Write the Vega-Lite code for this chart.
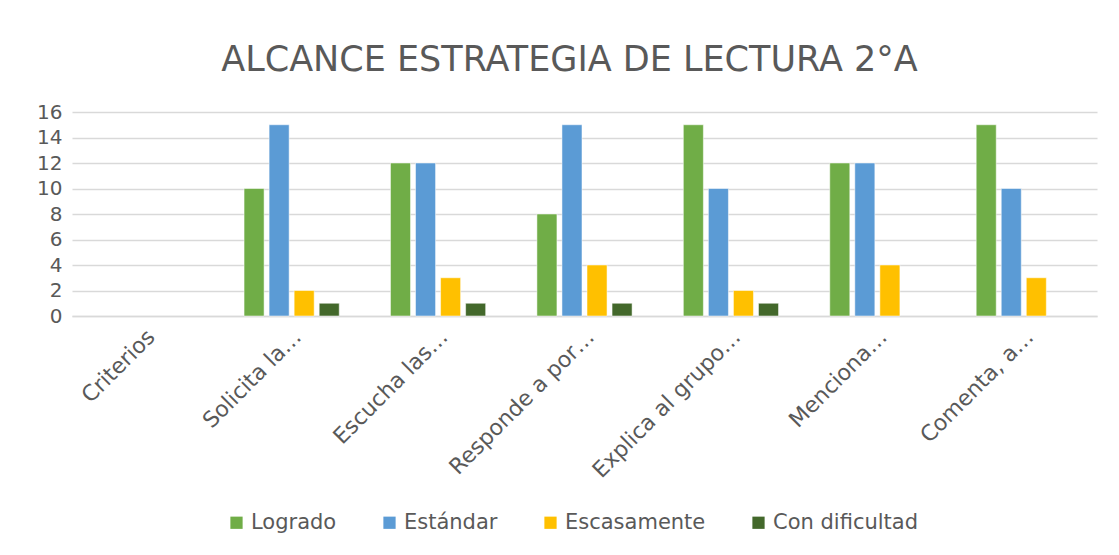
{
  "$schema": "https://vega.github.io/schema/vega-lite/v6.json",
  "width": 1025,
  "height": 204,
  "autosize": "none",
  "padding": {"left": 72, "top": 112, "right": 22, "bottom": 239},
  "background": "white",
  "title": {
    "text": "ALCANCE ESTRATEGIA DE LECTURA 2°A",
    "fontSize": 35,
    "font": "DejaVu Sans",
    "fontWeight": "normal",
    "color": "#595959",
    "anchor": "middle",
    "offset": 24,
    "dx": -15
  },
  "data": {
    "values": [
      {"criterio": "Solicita la…", "serie": "Logrado", "valor": 10},
      {"criterio": "Solicita la…", "serie": "Estándar", "valor": 15},
      {"criterio": "Solicita la…", "serie": "Escasamente", "valor": 2},
      {"criterio": "Solicita la…", "serie": "Con dificultad", "valor": 1},
      {"criterio": "Escucha las…", "serie": "Logrado", "valor": 12},
      {"criterio": "Escucha las…", "serie": "Estándar", "valor": 12},
      {"criterio": "Escucha las…", "serie": "Escasamente", "valor": 3},
      {"criterio": "Escucha las…", "serie": "Con dificultad", "valor": 1},
      {"criterio": "Responde a por…", "serie": "Logrado", "valor": 8},
      {"criterio": "Responde a por…", "serie": "Estándar", "valor": 15},
      {"criterio": "Responde a por…", "serie": "Escasamente", "valor": 4},
      {"criterio": "Responde a por…", "serie": "Con dificultad", "valor": 1},
      {"criterio": "Explica al grupo…", "serie": "Logrado", "valor": 15},
      {"criterio": "Explica al grupo…", "serie": "Estándar", "valor": 10},
      {"criterio": "Explica al grupo…", "serie": "Escasamente", "valor": 2},
      {"criterio": "Explica al grupo…", "serie": "Con dificultad", "valor": 1},
      {"criterio": "Menciona…", "serie": "Logrado", "valor": 12},
      {"criterio": "Menciona…", "serie": "Estándar", "valor": 12},
      {"criterio": "Menciona…", "serie": "Escasamente", "valor": 4},
      {"criterio": "Comenta, a…", "serie": "Logrado", "valor": 15},
      {"criterio": "Comenta, a…", "serie": "Estándar", "valor": 10},
      {"criterio": "Comenta, a…", "serie": "Escasamente", "valor": 3}
    ]
  },
  "mark": {"type": "bar", "stroke": "#FFFFFF", "strokeOpacity": 0.5, "strokeWidth": 1},
  "encoding": {
    "x": {
      "field": "criterio",
      "type": "nominal",
      "sort": null,
      "scale": {
        "domain": ["Criterios", "Solicita la…", "Escucha las…", "Responde a por…", "Explica al grupo…", "Menciona…", "Comenta, a…"],
        "paddingInner": 0.35,
        "paddingOuter": 0.175
      },
      "axis": {
        "title": null,
        "labelAngle": -45,
        "labelAlign": "right",
        "labelBaseline": "middle",
        "labelFontSize": 22,
        "labelFont": "DejaVu Sans",
        "labelColor": "#595959",
        "labelPadding": 17,
        "labelOffset": 6,
        "ticks": false,
        "domainColor": "#D9D9D9",
        "domainWidth": 1.5,
        "grid": false,
        "labelLimit": 300
      }
    },
    "xOffset": {
      "field": "serie",
      "type": "nominal",
      "scale": {
        "domain": ["Logrado", "Estándar", "Escasamente", "Con dificultad"],
        "paddingInner": 0.2,
        "paddingOuter": 0
      }
    },
    "y": {
      "field": "valor",
      "type": "quantitative",
      "scale": {"domain": [0, 16], "nice": false},
      "axis": {
        "title": null,
        "values": [0, 2, 4, 6, 8, 10, 12, 14, 16],
        "domain": false,
        "ticks": false,
        "labelFontSize": 20,
        "labelFont": "DejaVu Sans",
        "labelColor": "#595959",
        "labelPadding": 10,
        "gridColor": "#D9D9D9",
        "gridWidth": 1.5
      }
    },
    "color": {
      "field": "serie",
      "type": "nominal",
      "scale": {
        "domain": ["Logrado", "Estándar", "Escasamente", "Con dificultad"],
        "range": ["#70AD47", "#5B9BD5", "#FFC000", "#43682B"]
      },
      "legend": {
        "title": null,
        "orient": "none",
        "direction": "horizontal",
        "legendX": 154,
        "legendY": 400,
        "symbolType": "square",
        "symbolSize": 150,
        "symbolStrokeWidth": 0,
        "labelFontSize": 21,
        "labelFont": "DejaVu Sans",
        "labelColor": "#595959",
        "columnPadding": 42,
        "labelOffset": 4
      }
    }
  },
  "config": {
    "view": {"stroke": null}
  }
}
